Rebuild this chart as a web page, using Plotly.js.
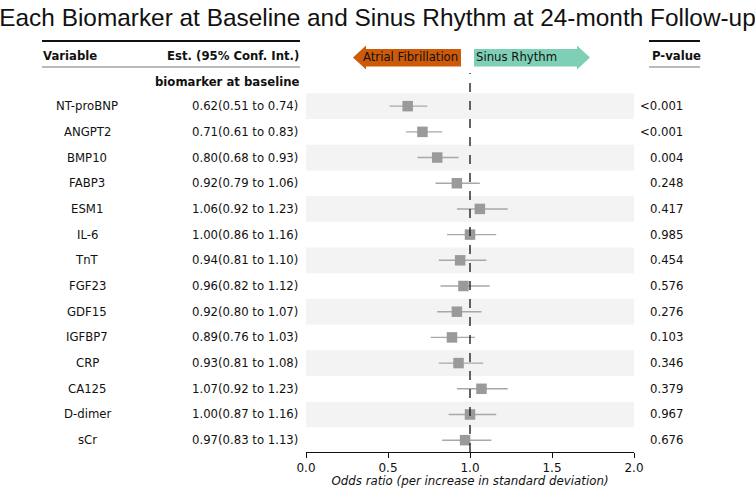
<!DOCTYPE html>
<html>
<head>
<meta charset="utf-8">
<script src="https://cdn.plot.ly/plotly-3.0.1.min.js"></script>
<style>html,body{margin:0;padding:0;background:#fff;}#chart{width:755px;height:488px;}</style>
</head>
<body>
<div id="chart"></div>
<script>
const variables = ["NT-proBNP","ANGPT2","BMP10","FABP3","ESM1","IL-6","TnT","FGF23","GDF15","IGFBP7","CRP","CA125","D-dimer","sCr"];
const estimates = [0.62,0.71,0.80,0.92,1.06,1.00,0.94,0.96,0.92,0.89,0.93,1.07,1.00,0.97];
const lower = [0.51,0.61,0.68,0.79,0.92,0.86,0.81,0.82,0.80,0.76,0.81,0.92,0.87,0.83];
const upper = [0.74,0.83,0.93,1.06,1.23,1.16,1.10,1.12,1.07,1.03,1.08,1.23,1.16,1.13];
const pvalues = ["<0.001","<0.001","0.004","0.248","0.417","0.985","0.454","0.576","0.276","0.103","0.346","0.379","0.967","0.676"];
const xTicks = [0, 0.5, 1.0, 1.5, 2.0];
const xTickLabels = ["0.0","0.5","1.0","1.5","2.0"];

const W = 755, H = 488;
const px = v => v / W;            // pixel x -> paper x
const py = v => 1 - v / H;        // pixel y -> paper y
const FONT = "DejaVu Sans, sans-serif";
const FS = 11.7;

const rows = variables.map((_, i) => i + 1);

const trace = {
  type: "scatter", mode: "markers",
  x: estimates, y: rows,
  marker: {symbol: "square", size: 10.5, color: "#9a9a9a"},
  error_x: {
    type: "data", symmetric: false,
    array: estimates.map((e, i) => upper[i] - e),
    arrayminus: estimates.map((e, i) => e - lower[i]),
    color: "#a8a8a8", thickness: 1.4, width: 0
  },
  hoverinfo: "skip", showlegend: false
};

const shapes = [];
rows.forEach((r, i) => {
  if (i % 2 === 0) {
    shapes.push({type: "rect", xref: "x", yref: "y", x0: 0, x1: 2, y0: r - 0.5, y1: r + 0.5,
      fillcolor: "#f3f3f3", line: {width: 0}, layer: "below"});
  }
});
shapes.push({type: "line", xref: "x", yref: "paper", x0: 1, x1: 1, y0: py(452), y1: py(73),
  line: {color: "#111", width: 1.3, dash: "dash"}});
// header lines
shapes.push({type: "line", xref: "paper", yref: "paper", x0: px(42), x1: px(300), y0: py(41), y1: py(41), line: {color: "#111", width: 2}});
shapes.push({type: "line", xref: "paper", yref: "paper", x0: px(42), x1: px(300), y0: py(67), y1: py(67), line: {color: "#777", width: 1}});
shapes.push({type: "line", xref: "paper", yref: "paper", x0: px(649), x1: px(700), y0: py(41), y1: py(41), line: {color: "#111", width: 2}});
shapes.push({type: "line", xref: "paper", yref: "paper", x0: px(649), x1: px(700), y0: py(67), y1: py(67), line: {color: "#777", width: 1}});
// arrows
function pathFrom(pts) {
  return "M" + pts.map(p => px(p[0]) + "," + py(p[1])).join(" L") + " Z";
}
shapes.push({type: "path", xref: "paper", yref: "paper",
  path: pathFrom([[353,57.5],[366,45.5],[366,49],[461,49],[461,66.5],[366,66.5],[366,69.5]]),
  fillcolor: "#cc5a08", line: {width: 0}});
shapes.push({type: "path", xref: "paper", yref: "paper",
  path: pathFrom([[474,49],[577,49],[577,45.5],[590,57.5],[577,69.5],[577,66.5],[474,66.5]]),
  fillcolor: "#7fcfb7", line: {width: 0}});

const annotations = [];
const txt = (text, x, xanchor, y, yref, opts) => Object.assign({
  text, x, xref: "paper", xanchor, y, yref, yanchor: "middle", showarrow: false,
  font: {family: FONT, size: FS, color: "#111"}
}, opts || {});

annotations.push(txt("<b>Variable</b>", px(41), "left", py(56), "paper"));
annotations.push(txt("<b>Est. (95% Conf. Int.)</b>", px(301), "right", py(56), "paper"));
annotations.push(txt("<b>P-value</b>", px(650), "left", py(56), "paper"));
annotations.push(txt("<b>biomarker at baseline</b>", px(301), "right", py(82), "paper"));
annotations.push(txt("Atrial Fibrillation", px(361), "left", py(57.5), "paper"));
annotations.push(txt("Sinus Rhythm", px(474), "left", py(57.5), "paper"));

rows.forEach((r, i) => {
  annotations.push(txt(variables[i], px(87), "center", r, "y"));
  annotations.push(txt(estimates[i].toFixed(2) + "(" + lower[i].toFixed(2) + " to " + upper[i].toFixed(2) + ")", px(300), "right", r, "y"));
  annotations.push(txt(pvalues[i], px(685), "right", r, "y"));
});

const layout = {
  width: W, height: H,
  margin: {l: 0, r: 0, t: 0, b: 0},
  paper_bgcolor: "#fff", plot_bgcolor: "rgba(0,0,0,0)",
  title: {text: "Each Biomarker at Baseline and Sinus Rhythm at 24-month Follow-up",
    font: {family: "Liberation Sans, Arial, sans-serif", size: 24.4, color: "#111"},
    x: 0.5, xanchor: "center", xref: "paper", y: 1 - 17 / H, yanchor: "middle", yref: "container"},
  xaxis: {
    domain: [px(306), px(634)], range: [0, 2],
    tickvals: xTicks, ticktext: xTickLabels,
    ticks: "outside", ticklen: 5, tickcolor: "#111", tickwidth: 1,
    showline: true, linecolor: "#111", linewidth: 1,
    showgrid: false, zeroline: false,
    tickfont: {family: FONT, size: 12, color: "#111"},
    title: {text: "Odds ratio (per increase in standard deviation)", standoff: 2,
      font: {family: FONT, size: 11.8, color: "#111", style: "italic"}},
    fixedrange: true
  },
  yaxis: {
    domain: [1 - 452 / H, 1 - 73 / H],
    range: [14.46, -0.29],
    showticklabels: false, showgrid: false, zeroline: false, showline: false, ticks: "",
    fixedrange: true
  },
  shapes, annotations
};

Plotly.newPlot("chart", [trace], layout, {displayModeBar: false, staticPlot: true});
</script>
</body>
</html>
